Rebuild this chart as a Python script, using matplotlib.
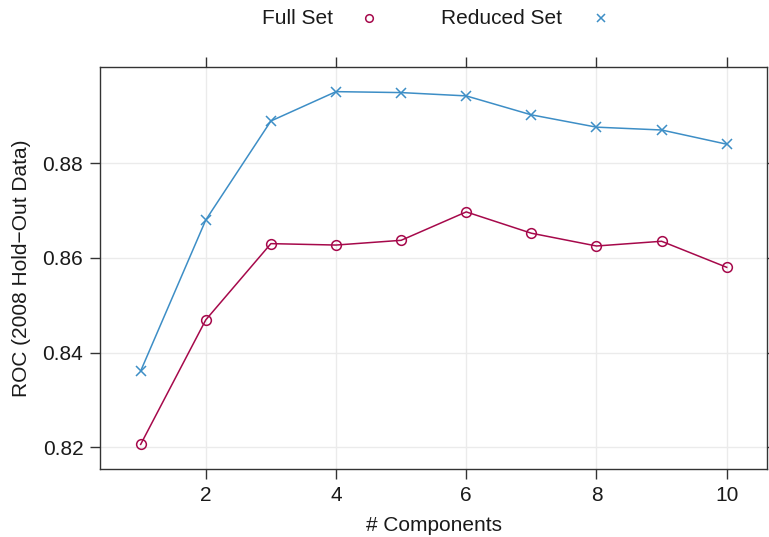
import matplotlib
matplotlib.use("Agg")
import matplotlib.pyplot as plt
from matplotlib.lines import Line2D

COLORS = {
    "full": "#A6094B",
    "reduced": "#3D8EC6",
    "grid": "#EBEBEB",
    "frame": "#333333",
    "text": "#1A1A1A",
}

components = [1, 2, 3, 4, 5, 6, 7, 8, 9, 10]
full_set = [0.8206, 0.8469, 0.8630, 0.8627, 0.8637, 0.8697, 0.8652, 0.8625, 0.8635, 0.8580]
reduced_set = [0.8361, 0.8680, 0.8889, 0.8951, 0.8949, 0.8942, 0.8902, 0.8876, 0.8870, 0.8840]

x_ticks = [2, 4, 6, 8, 10]
y_ticks = [0.82, 0.84, 0.86, 0.88]

plt.rcParams["font.family"] = ["Liberation Sans", "DejaVu Sans"]
FS = 15

fig = plt.figure(figsize=(7.69, 5.37), dpi=100)
ax = fig.add_axes([0.130, 0.1266, 0.8675, 0.7486])

ax.plot(components, reduced_set, color=COLORS["reduced"], linewidth=1.1,
        marker="x", markersize=7, markeredgewidth=1.1)
ax.plot(components, full_set, color=COLORS["full"], linewidth=1.1,
        marker="o", markersize=7, markerfacecolor="none", markeredgewidth=1.1)

ax.set_xlim(0.375, 10.62)
ax.set_ylim(0.8154, 0.9003)
ax.set_xticks(x_ticks)
ax.set_yticks(y_ticks)
ax.set_yticklabels([f"{v:.2f}" for v in y_ticks])
ax.grid(True, color=COLORS["grid"], linewidth=1)
ax.set_axisbelow(True)

ax.tick_params(direction="out", length=7, width=1, color=COLORS["frame"],
               labelsize=FS, labelcolor=COLORS["text"],
               top=True, right=True, labeltop=False, labelright=False)
ax.tick_params(axis="x", pad=5)
ax.tick_params(axis="y", pad=5)
for s in ax.spines.values():
    s.set_color(COLORS["frame"])
    s.set_linewidth(1)

ax.set_xlabel("# Components", fontsize=FS, color=COLORS["text"], labelpad=8)
ax.set_ylabel("ROC (2008 Hold\u2212Out Data)", fontsize=FS, color=COLORS["text"], labelpad=8)

# key at top, lattice style
fig.text(0.433, 0.966, "Full Set", fontsize=FS, ha="right", va="center", color=COLORS["text"])
fig.add_artist(Line2D([0.480], [0.966], transform=fig.transFigure, marker="o", markersize=5.5,
                      markerfacecolor="none", markeredgecolor=COLORS["full"], markeredgewidth=1.1))
fig.text(0.731, 0.966, "Reduced Set", fontsize=FS, ha="right", va="center", color=COLORS["text"])
fig.add_artist(Line2D([0.782], [0.966], transform=fig.transFigure, marker="x", markersize=5.5,
                      color=COLORS["reduced"], markeredgewidth=1.1))

fig.savefig("out.png", dpi=100)
